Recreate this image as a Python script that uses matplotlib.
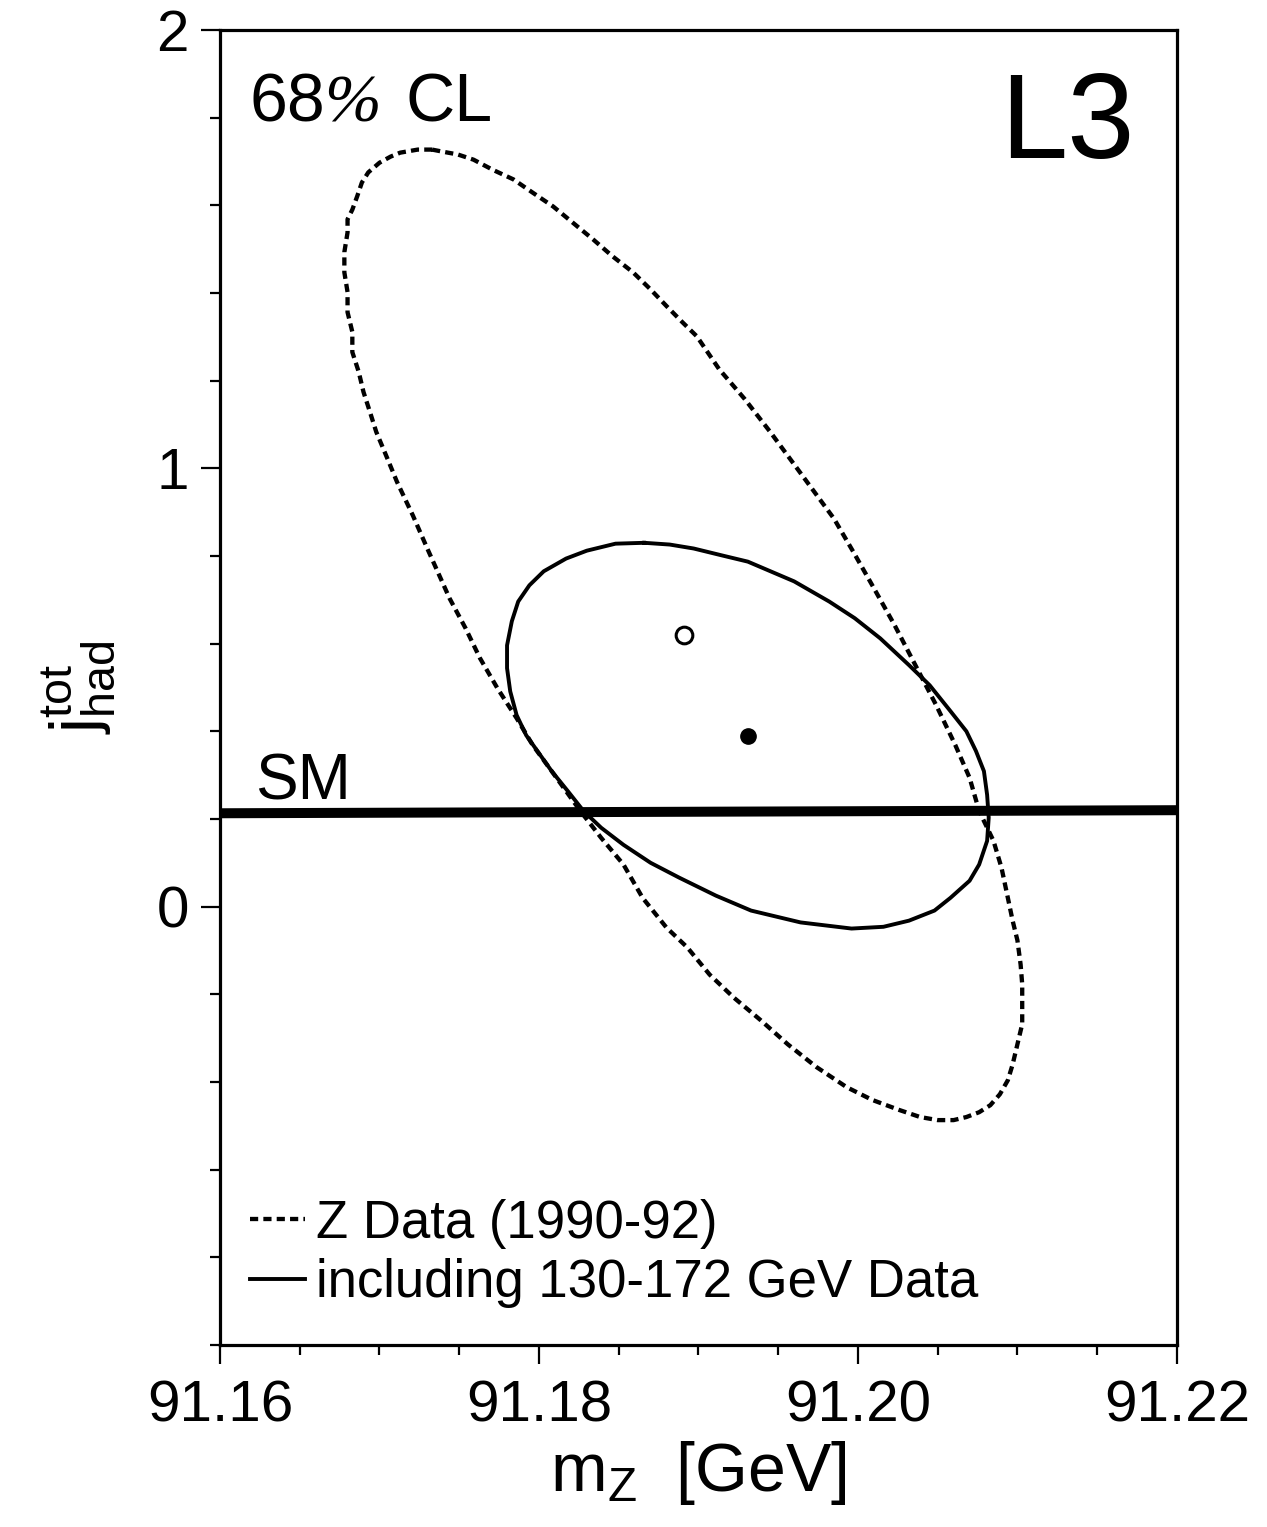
import matplotlib
matplotlib.use("Agg")
import matplotlib.pyplot as plt

# 68% CL contour, Z data only (1990-92)
z_only_mz = [91.1733, 91.1740, 91.1749, 91.1759, 91.1771, 91.1784, 91.1796, 91.1809,
             91.1821, 91.1834, 91.1846, 91.1859, 91.1870, 91.1880, 91.1890, 91.1899,
             91.1913, 91.1929, 91.1945, 91.1962, 91.1985, 91.1997, 91.2009, 91.2023,
             91.2036, 91.2049, 91.2061, 91.2070, 91.2076, 91.2085, 91.2090, 91.2094,
             91.2097, 91.2100, 91.2102, 91.2103, 91.2103, 91.2103, 91.2100, 91.2097,
             91.2094, 91.2089, 91.2083, 91.2076, 91.2068, 91.2060, 91.2050, 91.2039,
             91.2026, 91.2009, 91.1993, 91.1974, 91.1956, 91.1939, 91.1922, 91.1907,
             91.1893, 91.1880, 91.1865, 91.1853, 91.1839, 91.1826, 91.1808, 91.1796,
             91.1786, 91.1774, 91.1763, 91.1754, 91.1744, 91.1737, 91.1730, 91.1721,
             91.1711, 91.1705, 91.1698, 91.1694, 91.1690, 91.1687, 91.1683, 91.1683,
             91.1680, 91.1680, 91.1678, 91.1678, 91.1680, 91.1680, 91.1683, 91.1686,
             91.1689, 91.1693, 91.1700, 91.1707, 91.1713, 91.1724, 91.1733]
z_only_j = [1.727, 1.722, 1.716, 1.704, 1.681, 1.659, 1.629, 1.597,
            1.561, 1.522, 1.484, 1.447, 1.408, 1.370, 1.333, 1.301,
            1.226, 1.158, 1.083, 0.999, 0.885, 0.810, 0.733, 0.642,
            0.551, 0.460, 0.369, 0.294, 0.218, 0.150, 0.089, 0.020,
            -0.032, -0.077, -0.132, -0.177, -0.223, -0.268, -0.314, -0.360,
            -0.396, -0.428, -0.453, -0.469, -0.480, -0.487, -0.487, -0.480,
            -0.464, -0.441, -0.412, -0.366, -0.314, -0.259, -0.207, -0.155,
            -0.093, -0.048, 0.020, 0.096, 0.157, 0.218, 0.309, 0.369,
            0.430, 0.498, 0.567, 0.635, 0.703, 0.760, 0.817, 0.892,
            0.969, 1.022, 1.083, 1.129, 1.174, 1.220, 1.265, 1.311,
            1.356, 1.402, 1.447, 1.493, 1.538, 1.568, 1.590, 1.620,
            1.652, 1.675, 1.697, 1.711, 1.720, 1.727, 1.727]

# 68% CL contour including 130-172 GeV data
comb_mz = [91.1866, 91.1882, 91.1897, 91.1915, 91.1931, 91.1960, 91.1982, 91.1998,
           91.2014, 91.2032, 91.2045, 91.2058, 91.2068, 91.2074, 91.2079, 91.2081,
           91.2082, 91.2081, 91.2076, 91.2070, 91.2058, 91.2048, 91.2032, 91.2016,
           91.1996, 91.1964, 91.1933, 91.1911, 91.1888, 91.1870, 91.1853, 91.1839,
           91.1828, 91.1818, 91.1808, 91.1800, 91.1792, 91.1786, 91.1782, 91.1780,
           91.1780, 91.1783, 91.1787, 91.1794, 91.1803, 91.1817, 91.1830, 91.1848,
           91.1866]
comb_j = [0.830, 0.826, 0.817, 0.801, 0.787, 0.742, 0.696, 0.658,
          0.612, 0.551, 0.505, 0.446, 0.400, 0.355, 0.309, 0.255,
          0.203, 0.150, 0.096, 0.059, 0.020, -0.009, -0.032, -0.046,
          -0.050, -0.036, -0.009, 0.025, 0.066, 0.100, 0.141, 0.180,
          0.218, 0.264, 0.309, 0.350, 0.391, 0.437, 0.491, 0.544,
          0.596, 0.651, 0.696, 0.733, 0.765, 0.794, 0.812, 0.828,
          0.830]

# best-fit points
fit_z_only = (91.1891, 0.619)
fit_comb = (91.1931, 0.389)

# Standard Model expectation
sm_mz = [91.16, 91.22]
sm_j = [0.213, 0.220]

plt.rcParams["font.family"] = ["Liberation Sans", "DejaVu Sans"]
plt.rcParams["mathtext.fontset"] = "custom"
plt.rcParams["mathtext.rm"] = "Liberation Sans"

fig = plt.figure(figsize=(12.67, 15.27), dpi=100)
ax = fig.add_axes([0.1736, 0.1192, 0.7553, 0.8612])

l_z, = ax.plot(z_only_mz, z_only_j, color="black", lw=3.1, ls=(0, (1.9, 1.2)),
               dash_capstyle="butt", label="Z Data (1990-92)")
l_c, = ax.plot(comb_mz, comb_j, color="black", lw=2.8, solid_joinstyle="round",
               label="including 130-172 GeV Data")
ax.plot(sm_mz, sm_j, color="black", lw=7.2, solid_capstyle="butt")
ax.plot(*fit_z_only, marker="o", ms=12, mfc="white", mec="black", mew=2.2)
ax.plot(*fit_comb, marker="o", ms=11, mfc="black", mec="black")

ax.set_xlim(91.16, 91.22)
ax.set_ylim(-1, 2)
ax.set_xticks([91.16, 91.18, 91.20, 91.22])
ax.set_xticklabels(["91.16", "91.18", "91.20", "91.22"])
ax.set_xticks([91.16 + 0.005 * i for i in range(13)], minor=True)
ax.set_yticks([0, 1, 2])
ax.set_yticks([-1 + 0.2 * i for i in range(16)], minor=True)

for s in ax.spines.values():
    s.set_linewidth(2.3)
ax.tick_params(which="major", direction="out", length=13.5, width=1.6,
               labelsize=42, pad=9)
ax.tick_params(which="minor", direction="out", length=7.5, width=1.6)
ax.tick_params(axis="x", which="major", pad=11)

ax.set_xlabel(r"$\mathregular{m_Z}$  [GeV]", fontsize=49, labelpad=4)
ax.set_ylabel(r"$\mathregular{j^{tot}_{had}}$", fontsize=48, labelpad=28)

# "68% CL" with the serif italic percent sign of the original
ax.text(0.0313, 0.930, "68", transform=ax.transAxes, fontsize=49,
        va="baseline", ha="left")
ax.text(0.109, 0.930, "%", transform=ax.transAxes, fontsize=49,
        family="Liberation Serif", style="italic", va="baseline", ha="left")
ax.text(0.194, 0.930, "CL", transform=ax.transAxes, fontsize=49,
        va="baseline", ha="left")
ax.text(0.815, 0.9027, "L3", transform=ax.transAxes, fontsize=87,
        va="baseline", ha="left")
ax.text(0.0366, 0.415, "SM", transform=ax.transAxes, fontsize=46,
        va="baseline", ha="left")

ax.legend(handles=[l_z, l_c], loc="lower left", bbox_to_anchor=(0.031, 0.028),
          frameon=False, fontsize=38, handlelength=1.05, handletextpad=0.2,
          labelspacing=0.18, borderpad=0, borderaxespad=0)

fig.savefig("out.png", dpi=100)
